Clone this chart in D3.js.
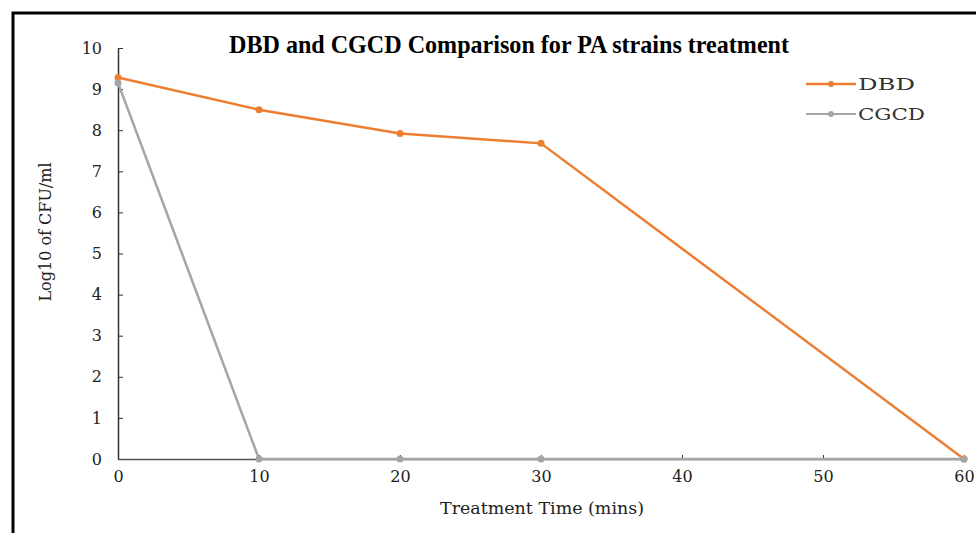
<!DOCTYPE html>
<html><head><meta charset="utf-8">
<script src="https://cdn.jsdelivr.net/npm/d3@7"></script>
<style>body{margin:0;background:#fff}svg{display:block}</style>
</head><body><svg id="c" width="976" height="533"></svg>
<script>
const times = [0, 10, 20, 30, 60];
const dbd = [9.28, 8.5, 7.92, 7.68, 0];
const cgcd = [9.15, 0, 0, 0, 0];
const xTicks = [0, 10, 20, 30, 40, 50, 60];
const yTicks = [0,1,2,3,4,5,6,7,8,9,10];
const seriesNames = ["DBD", "CGCD"];
const colors = ["#ED7D31", "#A5A5A5"];

const svg = d3.select("#c");
const x = d3.scaleLinear().domain([0, 60]).range([118, 964]);
const y = d3.scaleLinear().domain([0, 10]).range([459, 48]);
const serif = "'Liberation Serif', 'Times New Roman', serif";
const wide = "'DejaVu Serif', serif";

// frame
svg.append("rect").attr("x", 13).attr("y", 13).attr("width", 976).attr("height", 540)
  .attr("fill", "none").attr("stroke", "#000").attr("stroke-width", 3);

// y axis
const ya = svg.append("g").attr("transform", `translate(${x(0)},0)`)
  .call(d3.axisLeft(y).tickValues(yTicks).tickSizeInner(-5).tickSizeOuter(0).tickPadding(16));
ya.select(".domain").attr("stroke", "#333").attr("stroke-width", 1.5);
ya.selectAll(".tick line").attr("stroke", "#333");
ya.selectAll("text").attr("font-family", wide).style("font-size", "16px").attr("fill", "#222");

// x axis
const xa = svg.append("g").attr("transform", `translate(0,${y(0)})`)
  .call(d3.axisBottom(x).tickValues(xTicks).tickSizeInner(-4).tickSizeOuter(0).tickPadding(12));
xa.select(".domain").attr("stroke", "#555").attr("stroke-width", 1.5);
xa.selectAll(".tick line").attr("stroke", "#333");
xa.selectAll("text").attr("font-family", wide).style("font-size", "16px").attr("fill", "#222");

const data = [dbd, cgcd];
const line = d3.line().x((d, i) => x(times[i])).y(d => y(d));
[0, 1].forEach(s => {
  const g = svg.append("g");
  g.append("path").datum(data[s]).attr("d", line).attr("fill", "none")
    .attr("stroke", colors[s]).attr("stroke-width", 2.5);
  g.selectAll("circle").data(data[s]).join("circle")
    .attr("cx", (d, i) => x(times[i])).attr("cy", d => y(d)).attr("r", 3.5)
    .attr("fill", colors[s]);
});

// title
svg.append("text").attr("x", 509).attr("y", 53).attr("text-anchor", "middle")
  .attr("font-family", serif).attr("font-weight", "bold").attr("font-size", 26)
  .attr("textLength", 560).attr("lengthAdjust", "spacingAndGlyphs")
  .text("DBD and CGCD Comparison for PA strains treatment");

// axis titles
svg.append("text").attr("transform", "translate(51,232) rotate(-90)").attr("text-anchor", "middle")
  .attr("font-family", wide).attr("font-size", 16).attr("fill", "#222").text("Log10 of CFU/ml");
svg.append("text").attr("x", 542).attr("y", 514).attr("text-anchor", "middle")
  .attr("font-family", wide).attr("font-size", 17).attr("fill", "#222")
  .attr("textLength", 204).attr("lengthAdjust", "spacingAndGlyphs").text("Treatment Time (mins)");

// legend
const legendLen = [57, 67];
seriesNames.forEach((n, i) => {
  const ly = 84 + i * 30;
  svg.append("line").attr("x1", 806).attr("x2", 856).attr("y1", ly).attr("y2", ly)
    .attr("stroke", colors[i]).attr("stroke-width", i === 0 ? 2.5 : 2);
  svg.append("circle").attr("cx", 831).attr("cy", ly).attr("r", 3).attr("fill", colors[i]);
  svg.append("text").attr("x", 858).attr("y", ly + 6).attr("font-family", wide)
    .attr("font-size", 17).attr("textLength", legendLen[i]).attr("lengthAdjust", "spacingAndGlyphs")
    .attr("fill", "#333").text(n);
});
</script></body></html>
